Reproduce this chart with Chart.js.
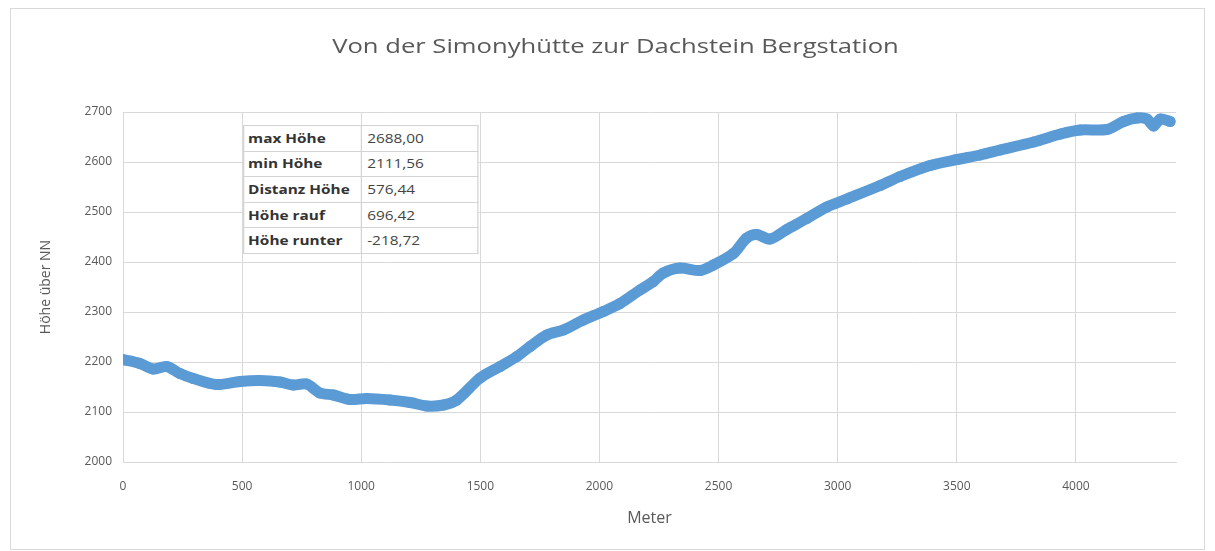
<!DOCTYPE html>
<html>
<head>
<meta charset="utf-8">
<script src="https://cdn.jsdelivr.net/npm/chart.js@4"></script>
<style>
  html, body { margin:0; padding:0; background:#fff; }
  #box { position:absolute; left:10px; top:8px; width:1193px; height:540px; border:1px solid #d9d9d9; }
  canvas { display:block; }
  #titel { position:absolute; left:8px; top:32px; width:1215px; text-align:center; font:20px "Open Sans"; color:#595959;
           transform:scaleX(1.28); transform-origin:center; white-space:nowrap; }
  #stats { position:absolute; left:243px; top:125px; border-collapse:collapse; background:#fff;
           transform:scaleX(1.28); transform-origin:left top; font:12px "Open Sans"; }
  #stats td { border:1px solid #d4d4d4; height:25.6px; padding:1px 0 0 3px; line-height:1; box-sizing:border-box; white-space:nowrap; }
  #stats td:first-child { width:92px; font-weight:bold; color:#333; }
  #stats td:last-child { width:91px; color:#444; padding-left:4px; }
</style>
</head>
<body>
<div id="box"><canvas id="c" width="1193" height="540"></canvas></div>
<div id="titel">Von der Simonyhütte zur Dachstein Bergstation</div>
<table id="stats"></table>
<script>
  // Höhenprofil (Meter / Höhe über NN)
  const meter = [0, 71, 126, 183, 239, 295, 393, 491, 575, 659, 715, 771, 827, 883, 953, 1023, 1121, 1205, 1275, 1345, 1401,
    1499, 1583, 1653, 1709, 1779, 1848, 1932, 2016, 2086, 2170, 2226, 2268, 2338, 2422, 2478, 2562, 2618, 2660, 2716,
    2786, 2870, 2954, 3038, 3178, 3262, 3388, 3501, 3598, 3682, 3822, 3935, 4018, 4130, 4200, 4256, 4298, 4326, 4354, 4395];
  const hoehe = [2205, 2197, 2186, 2191, 2177, 2167, 2155, 2161, 2163, 2160, 2154, 2156, 2138, 2134, 2125, 2127, 2124, 2119, 2112, 2114, 2124,
    2168, 2191, 2211, 2231, 2254, 2264, 2284, 2301, 2317, 2344, 2361, 2378, 2388, 2383, 2394, 2417, 2448, 2455, 2446,
    2465, 2487, 2510, 2526, 2553, 2571, 2593, 2605, 2614, 2624, 2640, 2656, 2664, 2665, 2681, 2688, 2686, 2672, 2686, 2681];
  const tickX = [0, 500, 1000, 1500, 2000, 2500, 3000, 3500, 4000];
  const tickY = [2000, 2100, 2200, 2300, 2400, 2500, 2600, 2700];
  const statNamen = ['max Höhe', 'min Höhe', 'Distanz Höhe', 'Höhe rauf', 'Höhe runter'];
  const statWerte = ['2688,00', '2111,56', '576,44', '696,42', '-218,72'];

  const grau = '#595959';
  const gitter = '#d9d9d9';

  // Tabelle oben links
  document.getElementById('stats').innerHTML = statNamen
    .map((n, i) => `<tr><td>${n}</td><td>${statWerte[i]}</td></tr>`).join('');

  new Chart(document.getElementById('c'), {
    type: 'line',
    data: {
      datasets: [{
        data: meter.map((m, i) => ({ x: m, y: hoehe[i] })),
        borderColor: '#5b9bd5',
        backgroundColor: '#5b9bd5',
        borderWidth: 11,
        borderCapStyle: 'round',
        borderJoinStyle: 'round',
        pointRadius: 5.5,
        pointBorderWidth: 0,
        tension: 0.3
      }]
    },
    options: {
      responsive: false,
      animation: false,
      layout: { padding: { left: 0, right: 28, top: 103, bottom: 0 } },
      plugins: {
        legend: { display: false },
        tooltip: { enabled: false },
        title: { display: false }
      },
      scales: {
        x: {
          type: 'linear',
          min: 0, max: 4420,
          afterFit(s) { s.height = 87; },
          afterBuildTicks(s) { s.ticks = tickX.map(v => ({ value: v })); },
          ticks: { color: grau, font: { family: '"Open Sans"', size: 12 }, padding: 17, callback: v => String(v) },
          grid: { color: gitter, drawTicks: false },
          border: { color: gitter },
          title: { display: true, text: 'Meter', color: grau, font: { family: '"Open Sans"', size: 16 }, padding: { top: 0, bottom: 21 } }
        },
        y: {
          min: 2000, max: 2700,
          afterFit(s) { s.width = 112; },
          afterBuildTicks(s) { s.ticks = tickY.map(v => ({ value: v })); },
          ticks: { color: grau, font: { family: '"Open Sans"', size: 12 }, padding: 11, callback: v => String(v) },
          grid: { color: gitter, drawTicks: false },
          border: { display: false },
          title: { display: true, text: 'Höhe über NN', color: grau, font: { family: '"Open Sans"', size: 14 }, padding: { top: 27, bottom: 0 } }
        }
      }
    }
  });
</script>
</body>
</html>
